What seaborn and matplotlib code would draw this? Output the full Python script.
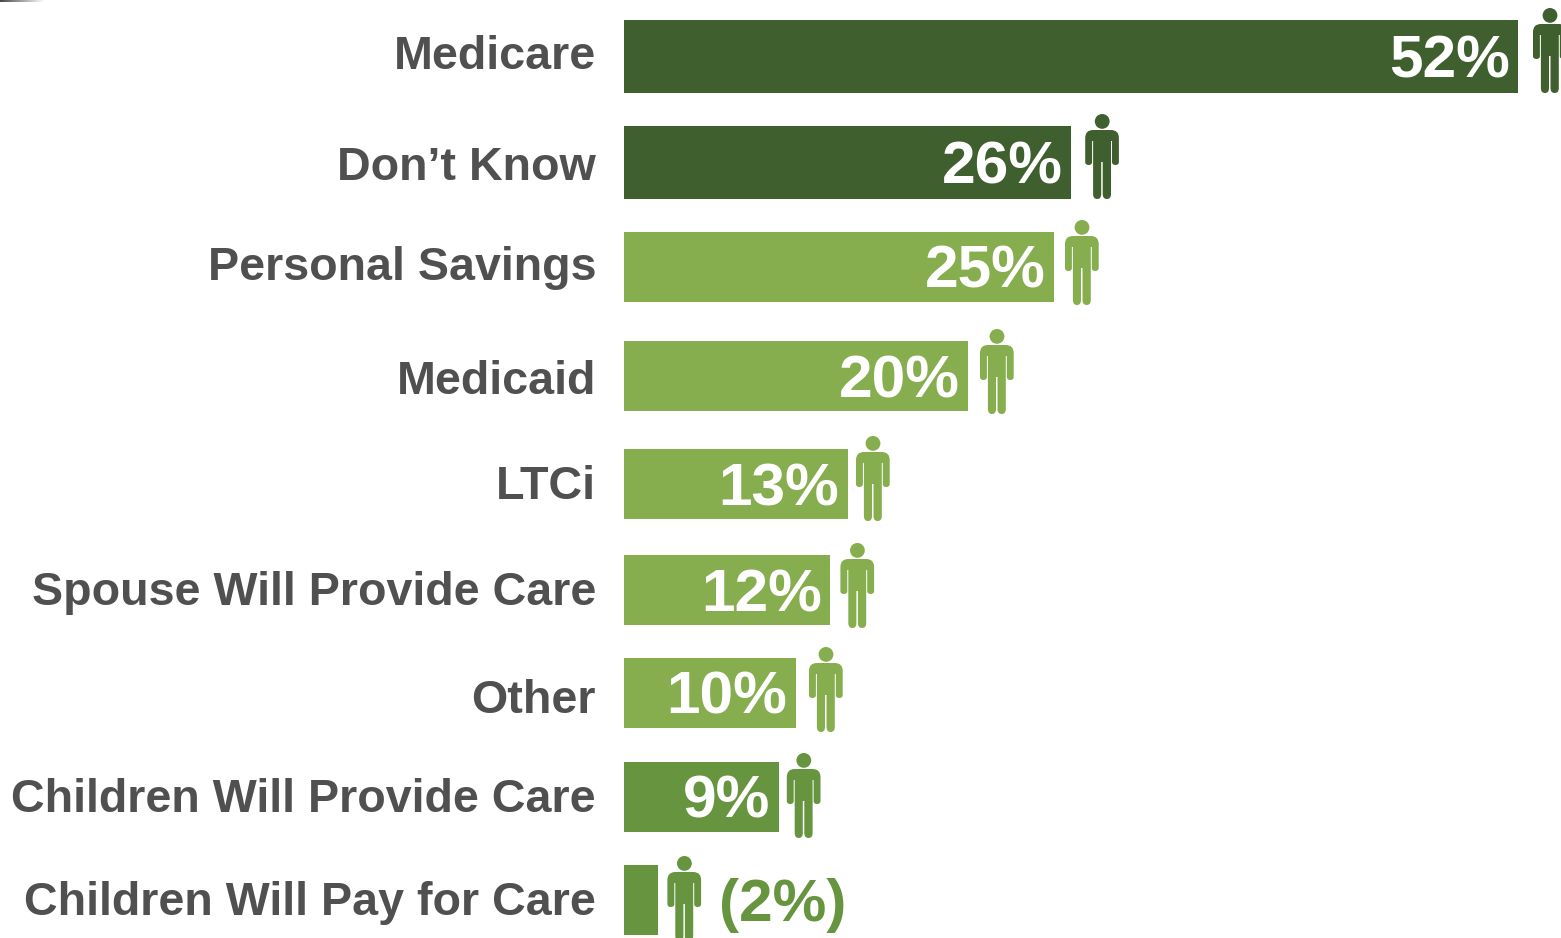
import matplotlib
matplotlib.use("Agg")
import matplotlib.pyplot as plt
import numpy as np
import pandas as pd
import seaborn as sns
from matplotlib.patches import PathPatch
from matplotlib.path import Path
from matplotlib.transforms import Affine2D

categories = ["Medicare", "Don\u2019t Know", "Personal Savings", "Medicaid", "LTCi",
              "Spouse Will Provide Care", "Other", "Children Will Provide Care",
              "Children Will Pay for Care"]
shares = [52, 26, 25, 20, 13, 12, 10, 9, 2]

DARK, LIGHT, MID = "#3F602E", "#86AE4E", "#66943F"
bar_colors = [DARK, DARK, LIGHT, LIGHT, LIGHT, LIGHT, LIGHT, MID, MID]

# Layout, in pixels of the finished figure
W, H = 1561, 938
PX_LEFT = 624
PX_PER_POINT = 17.2
row_top = [20, 126, 232, 341, 449, 555, 658, 762, 865]
row_height = [73, 73, 70, 70, 70, 70, 70, 70, 70]
label_y = [52, 163, 263, 377, 482, 588, 696, 795, 898]
icon_gap = [14.6, 14, 11, 12, 8.4, 10, 13, 8, 9]
icon_top = [8, 114, 220, 329, 436, 543, 647, 753, 856]

sns.set_theme(style="white")
plt.rcParams["font.family"] = ["Liberation Sans", "DejaVu Sans"]

fig = plt.figure(figsize=(W / 100, H / 100), dpi=100)
ax = fig.add_axes([PX_LEFT / W, 0, 1 - PX_LEFT / W, 1])

df = pd.DataFrame({"category": categories, "share": shares})
sns.barplot(data=df, x="share", y="category", hue="category", order=categories,
            hue_order=categories, palette=dict(zip(categories, bar_colors)),
            dodge=False, legend=False, ax=ax, saturation=1)

for patch, top, height in zip(ax.patches, row_top, row_height):
    patch.set_y(top)
    patch.set_height(height)
    patch.set_linewidth(0)

ax.set_xlim(0, (W - PX_LEFT) / PX_PER_POINT)
ax.set_ylim(H, 0)
ax.set_xlabel("")
ax.set_ylabel("")
ax.set_xticks([])
ax.set_yticks(label_y, categories)
ax.tick_params(axis="y", length=0, pad=28 * 0.72, labelsize=33.6, labelcolor="#505050")
for tick in ax.get_yticklabels():
    tick.set_fontweight("bold")
sns.despine(ax=ax, left=True, bottom=True)
ax.patch.set_alpha(0)


def rounded_person():
    """Standing figure, 34 wide and 85 tall, y pointing down."""
    M, L, Q = Path.MOVETO, Path.LINETO, Path.CURVE3
    outline = [
        (M, (8, 16)), (Q, (0, 16)), (Q, (0, 24)),
        (L, (0, 48)), (Q, (0, 51)), (Q, (3.4, 51)), (Q, (6.9, 51)), (Q, (6.9, 48)),
        (L, (6.9, 27)), (L, (7.9, 27)),
        (L, (7.9, 80)), (Q, (7.9, 85)), (Q, (12, 85)), (Q, (16, 85)), (Q, (16, 80)),
        (L, (16, 48)), (L, (17.5, 48)),
        (L, (17.5, 80)), (Q, (17.5, 85)), (Q, (21.7, 85)), (Q, (25.8, 85)), (Q, (25.8, 80)),
        (L, (25.8, 27)), (L, (26.8, 27)),
        (L, (26.8, 48)), (Q, (26.8, 51)), (Q, (30.2, 51)), (Q, (33.7, 51)), (Q, (33.7, 48)),
        (L, (33.7, 24)), (Q, (33.7, 16)), (Q, (25.7, 16)),
        (Path.CLOSEPOLY, (8, 16)),
    ]
    codes = [c for c, _ in outline]
    verts = [v for _, v in outline]
    head = Path.circle((17, 7.4), 7.4)
    return Path.make_compound_path(Path(verts, codes), head)


person = rounded_person()
for value, gap, top, color in zip(shares, icon_gap, icon_top, bar_colors):
    to_data = Affine2D().scale(1 / PX_PER_POINT, 1).translate(value + gap / PX_PER_POINT, top)
    ax.add_patch(PathPatch(person, facecolor=color, edgecolor="none",
                           transform=to_data + ax.transData))

# Percent labels: white inside the bar, except the shortest bar
PT = 0.72
for value, top, height, color in zip(shares, row_top, row_height, bar_colors):
    if value > 2:
        ax.annotate(f"{value}%", xy=(value, top + height / 2), xytext=(-8.5 * PT, -21 * PT),
                    textcoords="offset points", ha="right", va="baseline",
                    color="white", fontsize=43.5, fontweight="bold")
    else:
        ax.annotate(f"({value}%)", xy=(value, top + height / 2), xytext=(60.5 * PT, -21 * PT),
                    textcoords="offset points", ha="left", va="baseline",
                    color=color, fontsize=43.5, fontweight="bold")

# Thin fading streak along the top-left edge
streak = np.zeros((2, 45, 4))
streak[..., :3] = 0.2
streak[..., 3] = np.linspace(0.9, 0, 45)
fig.figimage(streak, xo=0, yo=H - 2, origin="upper", zorder=5)

fig.savefig("out.png", dpi=100, facecolor="white")
